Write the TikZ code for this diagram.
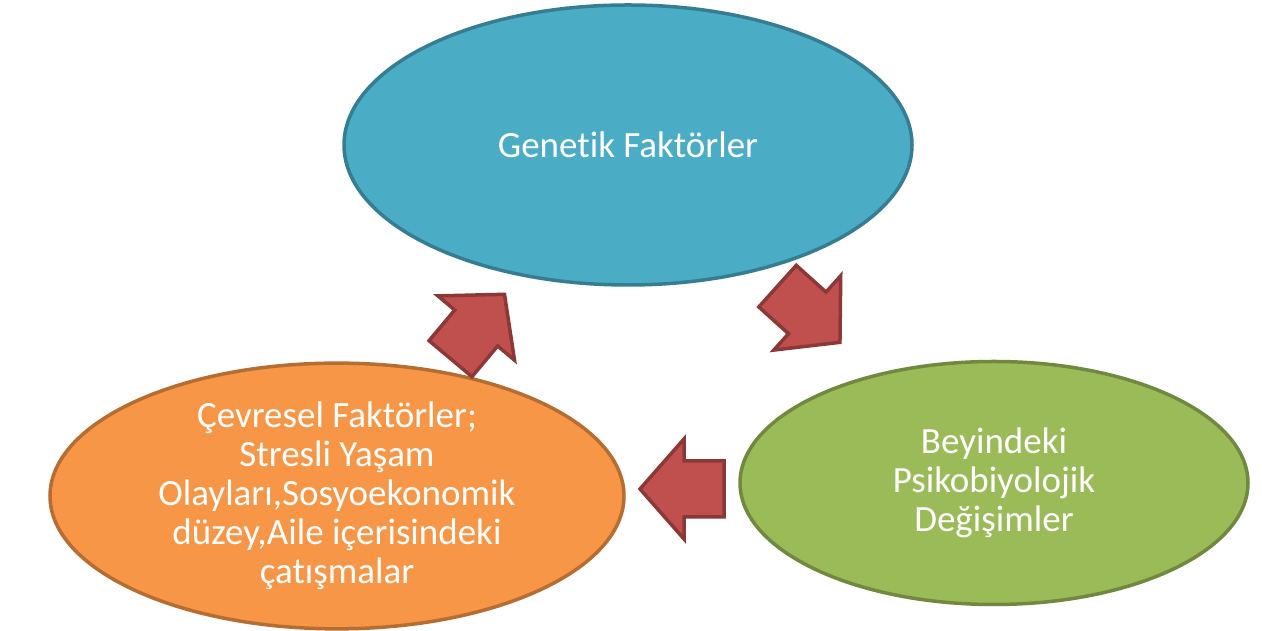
\documentclass[tikz,border=0pt]{standalone}
\usepackage{fontspec}
\setmainfont{Carlito}[RawFeature={-liga}]
\usetikzlibrary{shapes.geometric}

\definecolor{geneFill}{HTML}{4BACC6}
\definecolor{geneLine}{HTML}{357D91}
\definecolor{brainFill}{HTML}{9BBB59}
\definecolor{brainLine}{HTML}{71893F}
\definecolor{envFill}{HTML}{F79646}
\definecolor{envLine}{HTML}{B66D31}
\definecolor{arrowFill}{HTML}{C0504D}
\definecolor{arrowLine}{HTML}{8C3836}

\begin{document}
\begin{tikzpicture}
    [   x = 1pt, y = 1pt
    ,   oval/.style = {ellipse, line width = 3.5pt, text = white, align = center,
                       inner sep = 0pt, font = \fontsize{37}{39}\selectfont}
    ,   blockarrow/.pic = {
            \draw[draw = arrowLine, fill = arrowFill, line width = 3.5pt, line join = miter]
                (42,0) -- (-2,50) -- (-2,28) -- (-42,28) -- (-42,-28) -- (-2,-28) -- (-2,-50) -- cycle;
        }
    ]
    \useasboundingbox (0,0) rectangle (1262,631);

    \node[oval, fill = geneFill, draw = geneLine, minimum width = 568pt, minimum height = 280pt]
        (genetik) at (628,486) {Genetik Faktörler};
    \node[oval, fill = brainFill, draw = brainLine, minimum width = 508pt, minimum height = 243pt]
        (beyin) at (994,148) {Beyindeki\\Psikobiyolojik\\Değişimler};
    \node[oval, fill = envFill, draw = envLine, minimum width = 574pt, minimum height = 248pt]
        (cevre) at (337,135) {Çevresel Faktörler;\\Stresli Yaşam\\Olayları,Sosyoekonomik\\düzey,Aile içerisindeki\\çatışmalar};

    \foreach\n/\x/\y/\a in {up/477.5/304.5/50,down/808.75/316.75/-42,left/682/142/180}
    {
        \pic[rotate = \a] (arrow\n) at (\x,\y) {blockarrow};
    }
\end{tikzpicture}
\end{document}
